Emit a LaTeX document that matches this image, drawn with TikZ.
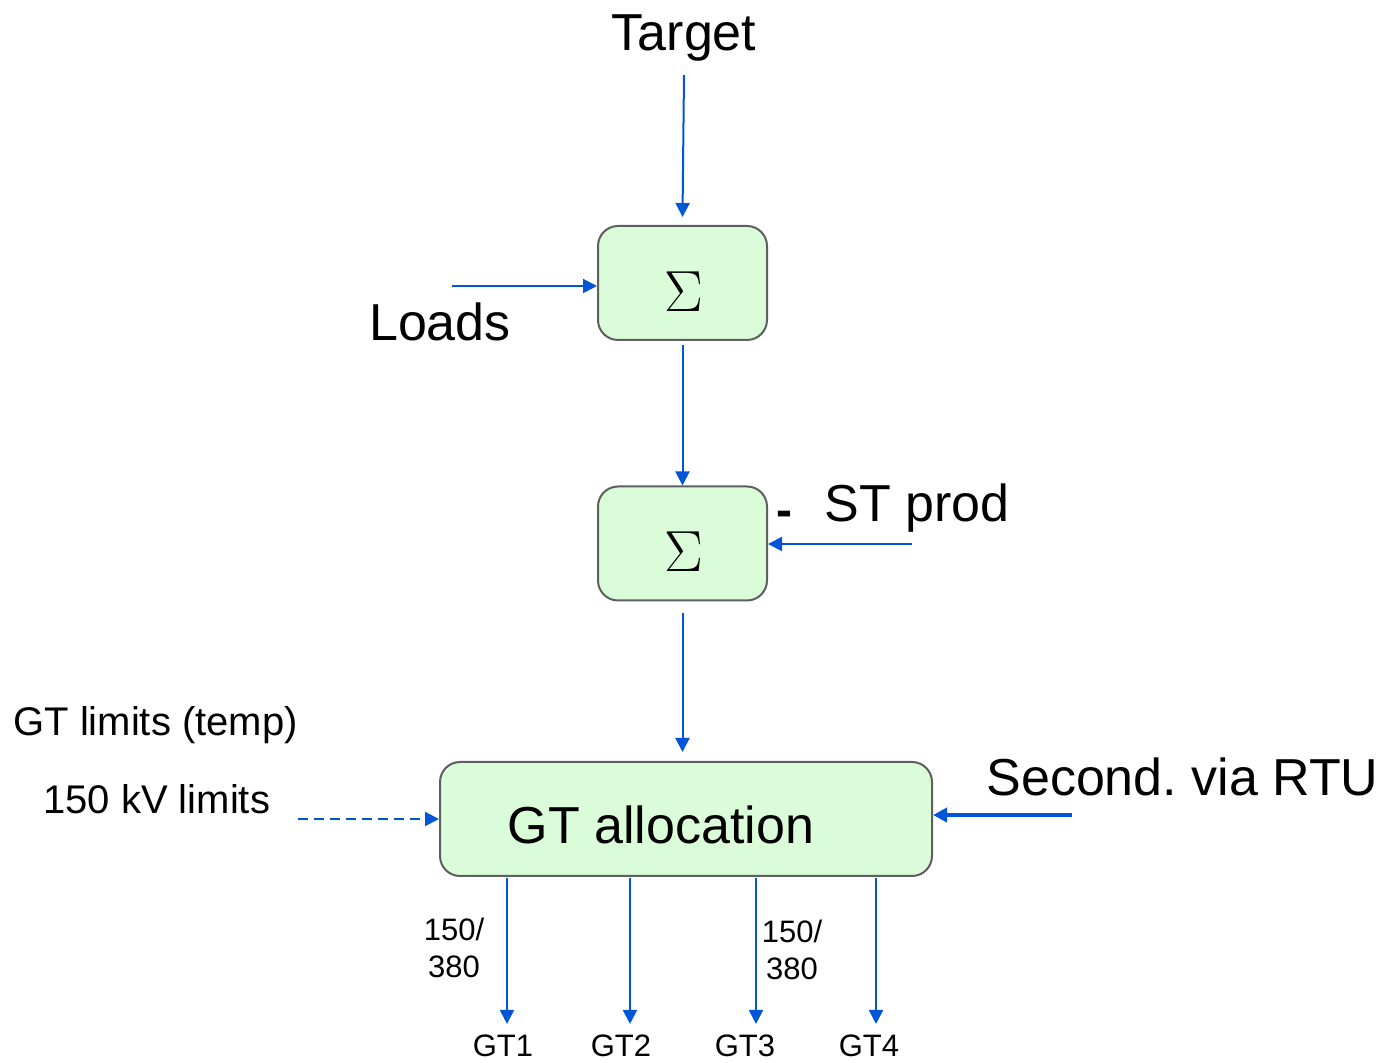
\RequirePackage{fix-cm}
\documentclass[tikz,border=0pt]{standalone}
\usepackage{fontspec}
\setmainfont{Liberation Sans}
\usetikzlibrary{arrows.meta,positioning}
\definecolor{FlowBlue}{RGB}{0,86,214}
\definecolor{BoxGreen}{RGB}{218,252,216}
\definecolor{BoxEdge}{RGB}{95,95,95}

\begin{document}
\begin{tikzpicture}[x=0.5pt,y=-0.5pt,>={Triangle[length=7pt,width=7pt]},
    blockbox/.style={draw=BoxEdge,line width=1pt,fill=BoxGreen,rounded corners=10pt,
      minimum height=57pt,inner sep=0pt},
    sumsign/.style={font=\fontsize{29}{32}\selectfont,inner sep=0pt},
    flow/.style={->,FlowBlue,line width=1pt},
    bigtext/.style={font=\fontsize{26}{30}\selectfont,inner sep=0pt},
    midtext/.style={font=\fontsize{20}{24}\selectfont,inner sep=0pt},
    smalltext/.style={font=\fontsize{15.5}{18.5}\selectfont,inner sep=0pt,align=center}]
  \useasboundingbox[fill=white] (0,0) rectangle (1389,1063);
  % summing blocks and allocation
  \node[blockbox,minimum width=84.5pt] (sum1) at (682.5,283) {};
  \node[blockbox,minimum width=84.5pt] (sum2) at (682.5,543.5) {};
  \node[sumsign] (sigma1) at (684,292) {$\Sigma$};
  \node[sumsign] (sigma2) at (684,552) {$\Sigma$};
  \node[blockbox,minimum width=246pt] (alloc) at (686,819) {};
  \node[bigtext] (alloctext) at (661,825) {GT allocation};
  % inputs
  \node[bigtext] (target) at (684,38.5) {Target};
  \node[bigtext] (loads) at (440,322) {Loads};
  \node[bigtext] (stprod) at (917,508) {ST prod};
  \node[font=\fontsize{24}{28}\selectfont\bfseries,inner sep=0pt] (minus) at (784,519) {-};
  \node[bigtext,anchor=west] (rtu) at (986,777) {Second.\ via RTU};
  \node[midtext,anchor=west] (gtlim) at (13,725) {GT limits (temp)};
  \node[midtext,anchor=west] (kvlim) at (43,799) {150 kV limits};
  \coordinate (loadsin) at (452,286);
  \coordinate (stin) at (912,544);
  \coordinate (limitsin) at (298,819);
  \coordinate (rtuin) at (1072,815);
  \draw[flow] ([yshift=-6.5pt]target.south) -- ([yshift=4pt]sum1.north);
  \draw[flow] (loadsin) -- (loadsin -| sum1.west);
  \draw[flow] ([yshift=-2pt]sum1.south) -- (sum2.north);
  \draw[flow] (stin) -- (stin -| sum2.east);
  \draw[flow] ([yshift=-6pt]sum2.south) -- ([yshift=4.5pt]sum2.south |- alloc.north);
  \draw[flow,dash pattern=on 5pt off 3pt] (limitsin) -- (alloc.west);
  \draw[flow,line width=2pt] (rtuin) -- (rtuin -| alloc.east);
  % outputs
  \foreach \i/\ax/\lx in {1/507/503,2/630/621,3/756/745,4/876/869}{
    \node[smalltext,anchor=base] (gt\i) at (\lx,1057) {GT\i};
    \coordinate (out\i) at (\ax,878);
    \draw[flow] (out\i) -- ([yshift=5.5pt]out\i |- gt\i.north);
  }
  \node[smalltext] (volt1) at (454,947.5) {150/\\380};
  \node[smalltext] (volt3) at (792,950) {150/\\380};
\end{tikzpicture}
\end{document}
